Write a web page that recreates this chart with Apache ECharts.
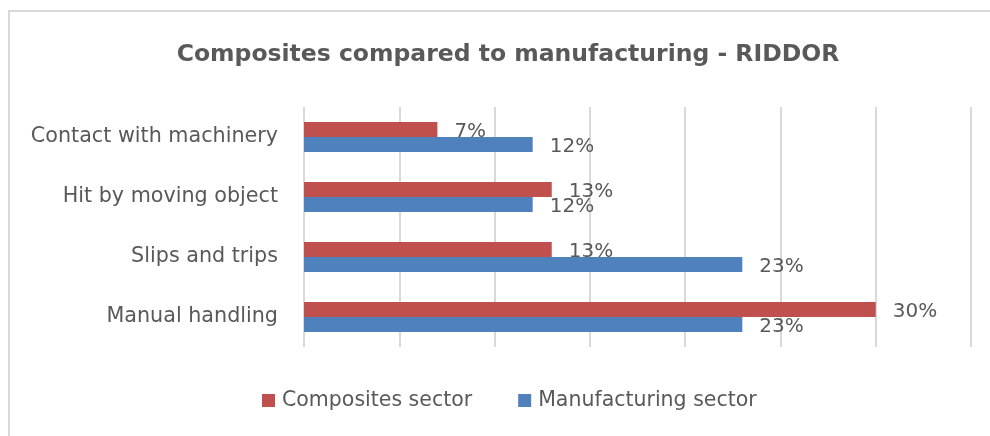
<!DOCTYPE html>
<html><head><meta charset="utf-8">
<script src="https://cdn.jsdelivr.net/npm/echarts@6/dist/echarts.min.js"></script>
<style>html,body{margin:0;padding:0;background:#fff}#c{width:990px;height:436px}</style>
</head><body><div id="c"></div>
<script>
const categories = ['Contact with machinery', 'Hit by moving object', 'Slips and trips', 'Manual handling'];
const compositesSector = [7, 13, 13, 30];
const manufacturingSector = [12, 12, 23, 23];
const seriesNames = ['Composites sector', 'Manufacturing sector'];
const chartTitle = 'Composites compared to manufacturing - RIDDOR';

const font = 'DejaVu Sans';
const txt = '#595959';
const chart = echarts.init(document.getElementById('c'));
const lbl = {show: true, position: 'right', distance: 17, offset: [0, 2], formatter: '{c}%', fontFamily: font, fontSize: 20, color: txt};
chart.setOption({
  animation: false,
  title: {text: chartTitle, left: 503, top: 38, textAlign: 'center',
    textStyle: {fontFamily: font, fontSize: 23.5, fontWeight: 'bold', color: txt}},
  graphic: [{type: 'rect', shape: {x: 9, y: 11, width: 1100, height: 600}, style: {fill: 'none', stroke: '#d9d9d9', lineWidth: 2}, silent: true}],
  legend: {data: seriesNames, bottom: 25, left: 262, padding: 0, itemWidth: 13, itemHeight: 13, itemGap: 46,
    icon: 'rect', textStyle: {fontFamily: font, fontSize: 20.5, color: txt, padding: [0, 0, 0, 2]}},
  grid: {left: 304, right: 19, top: 107, bottom: 89},
  xAxis: {type: 'value', min: 0, max: 35, interval: 5,
    axisLabel: {show: false}, axisLine: {show: false}, axisTick: {show: false},
    splitLine: {show: true, lineStyle: {color: '#d9d9d9', width: 2}}},
  yAxis: {type: 'category', data: categories, inverse: true,
    axisLine: {show: false}, axisTick: {show: false},
    axisLabel: {margin: 26, fontFamily: font, fontSize: 20.7, color: txt}},
  series: [
    {name: seriesNames[0], type: 'bar', data: compositesSector, barWidth: 15, barGap: '0%', itemStyle: {color: '#C0504D'}, label: lbl},
    {name: seriesNames[1], type: 'bar', data: manufacturingSector, barWidth: 15, barGap: '0%', itemStyle: {color: '#4F81BD'}, label: lbl}
  ]
});
</script></body></html>
